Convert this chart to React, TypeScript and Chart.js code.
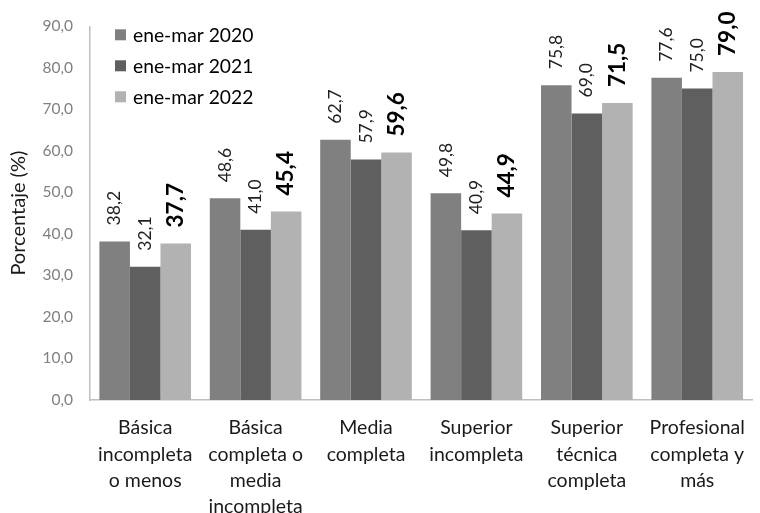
import React, { useEffect, useRef } from "react";
import { Chart, registerables } from "chart.js";

Chart.register(...registerables);

const categories: string[][] = [
  ["Básica", "incompleta", "o menos"],
  ["Básica", "completa o", "media", "incompleta"],
  ["Media", "completa"],
  ["Superior", "incompleta"],
  ["Superior", "técnica", "completa"],
  ["Profesional", "completa y", "más"],
];
const seriesLabels = ["ene-mar 2020", "ene-mar 2021", "ene-mar 2022"];
const values2020 = [38.2, 48.6, 62.7, 49.8, 75.8, 77.6];
const values2021 = [32.1, 41.0, 57.9, 40.9, 69.0, 75.0];
const values2022 = [37.7, 45.4, 59.6, 44.9, 71.5, 79.0];
const seriesColors = ["#808080", "#5f5f5f", "#b2b2b2"];
const boldSeries = [false, false, true];
const yTicks = [0, 10, 20, 30, 40, 50, 60, 70, 80, 90];

const FONT = "Lato, 'DejaVu Sans', sans-serif";
const fmt = (v: number) => v.toFixed(1).replace(".", ",");

const valueLabelPlugin = {
  id: "valueLabels",
  afterDatasetsDraw(chart: any) {
    const ctx = chart.ctx;
    chart.data.datasets.forEach((ds: any, di: number) => {
      const meta = chart.getDatasetMeta(di);
      meta.data.forEach((bar: any, i: number) => {
        const v = ds.data[i];
        ctx.save();
        ctx.translate(bar.x, bar.y - 16);
        ctx.rotate(-Math.PI / 2);
        ctx.textAlign = "left";
        ctx.textBaseline = "middle";
        ctx.fillStyle = boldSeries[di] ? "#000000" : "#1f1f1f";
        ctx.font = boldSeries[di] ? `bold 22.5px ${FONT}` : `17.5px ${FONT}`;
        ctx.fillText(fmt(v), 0, 0);
        ctx.restore();
      });
    });
  },
};

const legendPlugin = {
  id: "customLegend",
  afterDraw(chart: any) {
    const ctx = chart.ctx;
    const area = chart.chartArea;
    ctx.save();
    chart.data.datasets.forEach((ds: any, di: number) => {
      const cy = area.top + 8.5 + di * 31;
      ctx.fillStyle = ds.backgroundColor;
      ctx.fillRect(area.left + 25, cy - 5.5, 11, 11);
      ctx.fillStyle = "#000000";
      ctx.font = `19.3px ${FONT}`;
      ctx.textAlign = "left";
      ctx.textBaseline = "middle";
      ctx.fillText(ds.label, area.left + 43, cy + 1);
    });
    ctx.restore();
  },
};

export default function App() {
  const ref = useRef<HTMLCanvasElement | null>(null);
  useEffect(() => {
    if (!ref.current) return;
    const allSeries = [values2020, values2021, values2022];
    const chart = new Chart(ref.current, {
      type: "bar",
      data: {
        labels: categories,
        datasets: allSeries.map((d, i) => ({
          label: seriesLabels[i],
          data: d,
          backgroundColor: seriesColors[i],
          borderWidth: 0,
          categoryPercentage: 0.83,
          barPercentage: 1.0,
        })),
      },
      options: {
        responsive: false,
        animation: false,
        devicePixelRatio: 1,
        layout: { padding: { top: 13, right: 2, left: 0, bottom: 0 } },
        plugins: {
          legend: { display: false },
          tooltip: { enabled: false },
        },
        scales: {
          x: {
            grid: { display: false, drawTicks: false },
            border: { display: true, color: "#bfbfbf", width: 1.5 },
            ticks: {
              autoSkip: false,
              maxRotation: 0,
              minRotation: 0,
              padding: 15,
              color: "#1a1a1a",
              font: { family: FONT, size: 19.5, lineHeight: 1.35 },
            },
            afterFit: (scale: any) => {
              scale.height = 113;
            },
          },
          y: {
            min: 0,
            max: 90,
            afterBuildTicks: (scale: any) => {
              scale.ticks = yTicks.map((v) => ({ value: v }));
            },
            grid: { display: false, drawTicks: false },
            border: { display: true, color: "#bfbfbf", width: 1.5 },
            ticks: {
              padding: 17,
              color: "#808080",
              font: { family: FONT, size: 15.5 },
              callback: (v: any) => fmt(Number(v)),
            },
            title: {
              display: true,
              text: "Porcentaje (%)",
              color: "#1a1a1a",
              font: { family: FONT, size: 20 },
              padding: { top: 7, bottom: 0 },
            },
            afterFit: (scale: any) => {
              scale.width = 90;
            },
          },
        },
      },
      plugins: [valueLabelPlugin, legendPlugin],
    });
    return () => chart.destroy();
  }, []);
  return (
    <div style={{ position: "fixed", left: 0, top: 0, width: 760, height: 513, background: "#fff" }}>
      <canvas ref={ref} width={760} height={513} style={{ width: 760, height: 513 }} />
    </div>
  );
}
